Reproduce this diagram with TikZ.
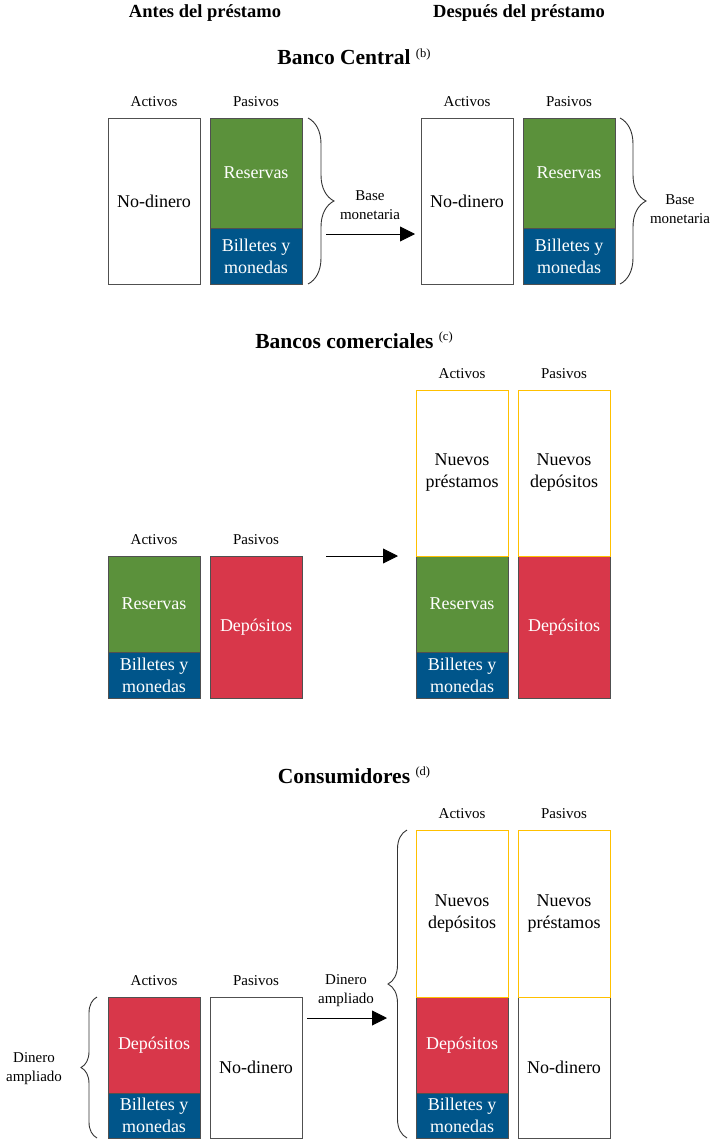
\documentclass[tikz,border=0pt]{standalone}
\usepackage{fontspec}
\setmainfont{Liberation Serif}
\usepackage{tikz}
\usetikzlibrary{positioning,arrows.meta,decorations.pathreplacing}
\definecolor{verde}{HTML}{5B913B}
\definecolor{azul}{HTML}{00558A}
\definecolor{rojo}{HTML}{D8374A}
\definecolor{amarillo}{HTML}{FFC000}
\definecolor{borde}{HTML}{505050}
\newcommand{\nota}[1]{\raisebox{8pt}{\fontsize{12.5}{12.5}\selectfont\mdseries(#1)}}

\begin{document}
\begin{tikzpicture}[x=1pt,y=-1pt,
    cuenta/.style={draw=borde,line width=0.8pt,minimum width=92pt,minimum height=#1,
                   inner sep=0pt,outer sep=0pt,align=center,
                   font=\fontsize{18}{22}\selectfont},
    nodinero/.style={cuenta=#1,fill=white},
    reserva/.style={cuenta=#1,fill=verde,text=white},
    billete/.style={cuenta=#1,fill=azul,text=white},
    deposito/.style={cuenta=#1,fill=rojo,text=white},
    nuevo/.style={cuenta=#1,draw=amarillo},
    colhead/.style={inner sep=0pt,font=\fontsize{15}{18}\selectfont},
    lado/.style={inner sep=0pt,align=center,font=\fontsize{15}{19}\selectfont},
    titulo/.style={anchor=base,inner sep=0pt,font=\bfseries\fontsize{21.5}{24}\selectfont},
    cabeza/.style={anchor=base,inner sep=0pt,font=\bfseries\fontsize{18.5}{22}\selectfont},
    llave/.style={draw=black!80,line width=0.9pt,decorate,decoration={brace,amplitude=#1}},
    flecha/.style={line width=0.9pt,-{Triangle[length=15pt,width=15pt]}}]
    \useasboundingbox (0,0) rectangle (720,1140);
    \node[cabeza] (antes) at (205,18) {Antes del préstamo};
    \node[cabeza] (despues) at (519,18) {Después del préstamo};
    %
    % Banco Central
    \node[titulo] (t-bc) at (354,65) {Banco Central \nota{b}};
    \node[nodinero=166pt,anchor=north west] (bc1-nd) at (108,118) {No-dinero};
    \node[reserva=110pt,anchor=north west] (bc1-res) at (210,118) {Reservas};
    \node[billete=56pt,below=0pt of bc1-res] (bc1-bil) {Billetes y\\monedas};
    \node[colhead,above=11pt of bc1-nd] (bc1-act) {Activos};
    \node[colhead,above=11pt of bc1-res] (bc1-pas) {Pasivos};
    \node[nodinero=166pt,anchor=north west] (bc2-nd) at (421,118) {No-dinero};
    \node[reserva=110pt,anchor=north west] (bc2-res) at (523,118) {Reservas};
    \node[billete=56pt,below=0pt of bc2-res] (bc2-bil) {Billetes y\\monedas};
    \node[colhead,above=11pt of bc2-nd] (bc2-act) {Activos};
    \node[colhead,above=11pt of bc2-res] (bc2-pas) {Pasivos};
    \draw[llave=26pt] ([xshift=6pt]bc1-res.north east) -- ([xshift=6pt]bc1-bil.south east);
    \draw[llave=26pt] ([xshift=5pt]bc2-res.north east) -- ([xshift=5pt]bc2-bil.south east);
    \node[lado] (bc1-base) at (370,205) {Base\\monetaria};
    \node[lado] (bc2-base) at (680,209) {Base\\monetaria};
    \coordinate (bc-ini) at (326,234);
    \draw[flecha,shorten >=6pt] (bc-ini) -- (bc-ini -| bc2-nd.west);
    %
    % Bancos comerciales
    \node[titulo] (t-bco) at (354,348) {Bancos comerciales \nota{c}};
    \node[reserva=96pt,anchor=north west] (bco1-res) at (108,556) {Reservas};
    \node[billete=46pt,below=0pt of bco1-res] (bco1-bil) {Billetes y\\monedas};
    \node[deposito=142pt,anchor=north west] (bco1-dep) at (210,556) {Depósitos};
    \node[colhead,above=11pt of bco1-res] (bco1-act) {Activos};
    \node[colhead,above=11pt of bco1-dep] (bco1-pas) {Pasivos};
    \node[reserva=96pt,anchor=north west] (bco2-res) at (416,556) {Reservas};
    \node[billete=46pt,below=0pt of bco2-res] (bco2-bil) {Billetes y\\monedas};
    \node[deposito=142pt,anchor=north west] (bco2-dep) at (518,556) {Depósitos};
    \node[nuevo=166pt,above=0pt of bco2-res] (bco2-np) {Nuevos\\préstamos};
    \node[nuevo=166pt,above=0pt of bco2-dep] (bco2-nd) {Nuevos\\depósitos};
    \node[colhead,above=11pt of bco2-np] (bco2-act) {Activos};
    \node[colhead,above=11pt of bco2-nd] (bco2-pas) {Pasivos};
    \coordinate (bco-ini) at (326,556);
    \coordinate (bco-fin) at (398,556);
    \draw[flecha] (bco-ini) -- (bco-fin);
    %
    % Consumidores
    \node[titulo] (t-con) at (354,783) {Consumidores \nota{d}};
    \node[deposito=96pt,anchor=north west] (con1-dep) at (108,997) {Depósitos};
    \node[billete=45pt,below=0pt of con1-dep] (con1-bil) {Billetes y\\monedas};
    \node[nodinero=141pt,anchor=north west] (con1-nd) at (210,997) {No-dinero};
    \node[colhead,above=11pt of con1-dep] (con1-act) {Activos};
    \node[colhead,above=11pt of con1-nd] (con1-pas) {Pasivos};
    \node[deposito=96pt,anchor=north west] (con2-dep) at (416,997) {Depósitos};
    \node[billete=45pt,below=0pt of con2-dep] (con2-bil) {Billetes y\\monedas};
    \node[nodinero=141pt,anchor=north west] (con2-nd) at (518,997) {No-dinero};
    \node[nuevo=167pt,above=0pt of con2-dep] (con2-ndep) {Nuevos\\depósitos};
    \node[nuevo=167pt,above=0pt of con2-nd] (con2-npr) {Nuevos\\préstamos};
    \node[colhead,above=11pt of con2-ndep] (con2-act) {Activos};
    \node[colhead,above=11pt of con2-npr] (con2-pas) {Pasivos};
    \draw[llave=16pt] ([xshift=-11pt]con1-bil.south west) -- ([xshift=-11pt]con1-dep.north west);
    \draw[llave=19pt] ([xshift=-9pt]con2-bil.south west) -- ([xshift=-9pt]con2-ndep.north west);
    \node[lado] (con1-dam) at (34,1069) {Dinero\\ampliado};
    \node[lado] (con-dam) at (346,991) {Dinero\\ampliado};
    \coordinate (con-ini) at (307,1018);
    \coordinate (con-fin) at (387,1018);
    \draw[flecha] (con-ini) -- (con-fin);
\end{tikzpicture}
\end{document}
